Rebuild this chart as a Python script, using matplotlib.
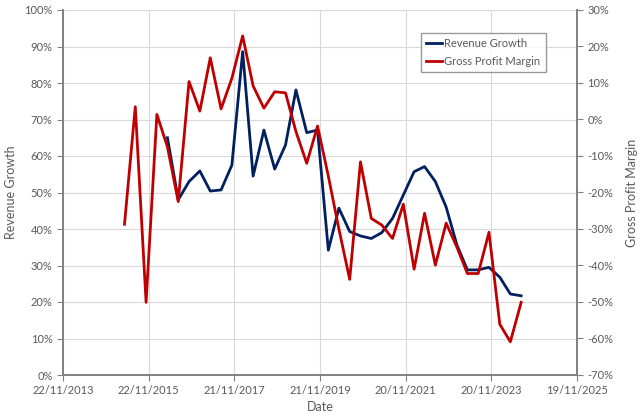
import numpy as np
import pandas as pd
import matplotlib
matplotlib.use("Agg")
import matplotlib.pyplot as plt
import matplotlib.dates as mdates
from matplotlib.ticker import FuncFormatter

# quarterly reporting dates
dates = pd.date_range("2015-04-30", periods=38, freq="3ME")

# gross profit margin (%), right axis
gross_margin = [-28.7, 3.5, -50.1, 1.4, -7.5, -22.5, 10.4, 2.3, 16.9, 2.9,
                11.3, 22.9, 9.2, 3.1, 7.6, 7.3, -3.3, -12.0, -1.8, -15.5,
                -30.0, -43.8, -11.6, -27.1, -28.9, -32.6, -23.2, -41.0, -25.7, -39.9,
                -28.4, -35.0, -42.2, -42.2, -30.9, -56.1, -60.9, -50.1]

# revenue growth (%), left axis, starts at the 5th quarter
rev_growth = [65.0, 48.0, 53.0, 55.9, 50.4, 50.7, 57.5, 88.6, 54.5, 67.1,
              56.4, 63.0, 78.1, 66.4, 67.1, 34.2, 45.7, 39.3, 38.1, 37.4,
              39.0, 42.9, 49.3, 55.7, 57.1, 53.0, 46.0, 35.6, 28.8, 28.8,
              29.5, 26.8, 22.2, 21.7]
rev_dates = dates[4:]

tick_dates = pd.date_range("2013-11-22", periods=7, freq="730D")

GREY = "#595959"
plt.rcParams["font.family"] = ["Lato", "DejaVu Sans"]

fig = plt.figure(figsize=(6.4, 4.18), dpi=100)
ax = fig.add_axes([63 / 640, 1 - 375 / 418, 514 / 640, 365 / 418])
ax2 = ax.twinx()

l1, = ax.plot(rev_dates, rev_growth, color="#002060", lw=2, label="Revenue Growth")
l2, = ax2.plot(dates, gross_margin, color="#C00000", lw=2, label="Gross Profit Margin")

ax.set_xlim(tick_dates[0], tick_dates[-1])
ax.set_ylim(0, 100)
ax2.set_ylim(-70, 30)
ax.set_yticks(np.arange(0, 101, 10))
ax2.set_yticks(np.arange(-70, 31, 10))
pct = FuncFormatter(lambda v, p: f"{v:.0f}%")
ax.yaxis.set_major_formatter(pct)
ax2.yaxis.set_major_formatter(pct)
ax.set_xticks(tick_dates)
ax.xaxis.set_major_formatter(mdates.DateFormatter("%d/%m/%Y"))

ax.grid(True, color="#d9d9d9", lw=0.8)
ax.set_axisbelow(True)
for a in (ax, ax2):
    a.spines["top"].set_visible(False)
    for s in ("left", "right", "bottom"):
        a.spines[s].set_color("#808080")
        a.spines[s].set_linewidth(1.2)
    a.tick_params(colors=GREY, labelsize=8, length=4, color="#808080")

ax.set_xlabel("Date", color=GREY, fontsize=9, labelpad=3)
ax.set_ylabel("Revenue Growth", color=GREY, fontsize=9, labelpad=5)
ax2.set_ylabel("Gross Profit Margin", color=GREY, fontsize=9, labelpad=9)

leg = fig.legend(handles=[l1, l2], loc="upper left", bbox_to_anchor=(415 / 640, 1 - 27 / 418),
                 fontsize=8, frameon=True, fancybox=False, handlelength=1.4,
                 handletextpad=0.2, borderpad=0.5, labelspacing=0.6, labelcolor=GREY)
leg.get_frame().set_edgecolor("#808080")
leg.get_frame().set_linewidth(1.0)

fig.savefig("out.png", dpi=100)
